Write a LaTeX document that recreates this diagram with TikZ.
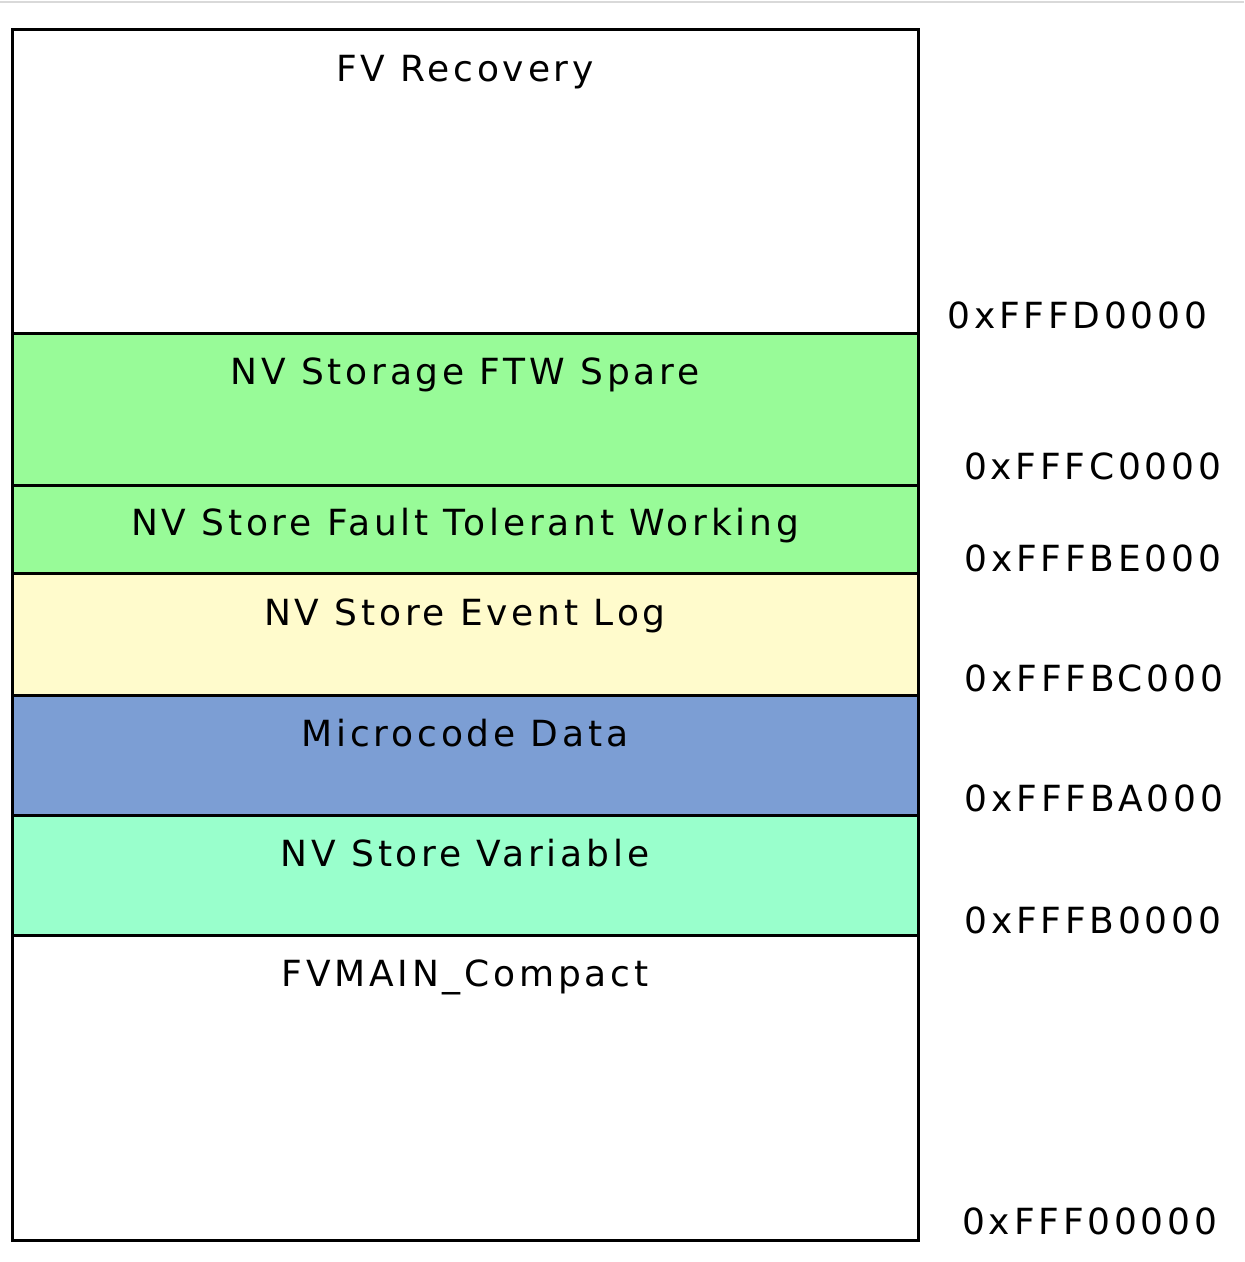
\documentclass[tikz,border=0pt]{standalone}
\usepackage{fontspec}
\setmainfont{DejaVu Sans}[LetterSpace=10.5]
\usetikzlibrary{positioning}
\definecolor{ftwgreen}{RGB}{152,251,152}
\definecolor{logyellow}{RGB}{255,251,204}
\definecolor{ucodeblue}{RGB}{124,158,212}
\definecolor{vargreen}{RGB}{153,255,204}

\begin{document}
\begin{tikzpicture}
    [x=0.25pt,y=-0.25pt,
     region/.style={rectangle,draw=black,line width=0.75pt,minimum width=226.5pt,inner sep=0pt,outer sep=0pt},
     regtext/.style={inner sep=0pt,text height=7pt,text depth=2pt},
     addr/.style={anchor=east,inner sep=0pt,text height=7pt,text depth=0pt}]
    \fontsize{9}{11}\selectfont
    \useasboundingbox (0,0) rectangle (1244,1262);
    \draw[black!15,line width=0.5pt] (0,2) -- (1244,2);

    % flash regions, top to bottom
    \node[region,minimum height=75.75pt,fill=white,anchor=north west] (recov) at (12,30) {};
    \node[region,minimum height=38pt,fill=ftwgreen,below=0pt of recov] (spare) {};
    \node[region,minimum height=22pt,fill=ftwgreen,below=0pt of spare] (ftw) {};
    \node[region,minimum height=30.5pt,fill=logyellow,below=0pt of ftw] (evlog) {};
    \node[region,minimum height=30pt,fill=ucodeblue,below=0pt of evlog] (ucode) {};
    \node[region,minimum height=30pt,fill=vargreen,below=0pt of ucode] (nvvar) {};
    \node[region,minimum height=76.25pt,fill=white,below=0pt of nvvar] (fvmain) {};

    \node[regtext] (recovtxt) at ([yshift=-10.5pt]recov.north) {FV Recovery};
    \node[regtext] (sparetxt) at ([yshift=-10.25pt]spare.north) {NV Storage FTW Spare};
    \node[regtext] (ftwtxt) at ([yshift=-10pt]ftw.north) {NV Store Fault Tolerant Working};
    \node[regtext] (evlogtxt) at ([yshift=-10.5pt]evlog.north) {NV Store Event Log};
    \node[regtext] (ucodetxt) at ([yshift=-10.25pt]ucode.north) {Microcode Data};
    \node[regtext] (nvvartxt) at ([yshift=-10.25pt]nvvar.north) {NV Store Variable};
    \node[regtext] (fvmaintxt) at ([yshift=-10.25pt]fvmain.north) {FVMAIN\_Compact};

    % base addresses
    \node[addr] (aD0000) at (1208,314) {0xFFFD0000};
    \node[addr] (aC0000) at (1222,465) {0xFFFC0000};
    \node[addr] (aBE000) at (1222,557) {0xFFFBE000};
    \node[addr] (aBC000) at (1224,677) {0xFFFBC000};
    \node[addr] (aBA000) at (1224,797) {0xFFFBA000};
    \node[addr] (aB0000) at (1222,919) {0xFFFB0000};
    \node[addr] (a00000) at (1218,1220) {0xFFF00000};
\end{tikzpicture}
\end{document}
